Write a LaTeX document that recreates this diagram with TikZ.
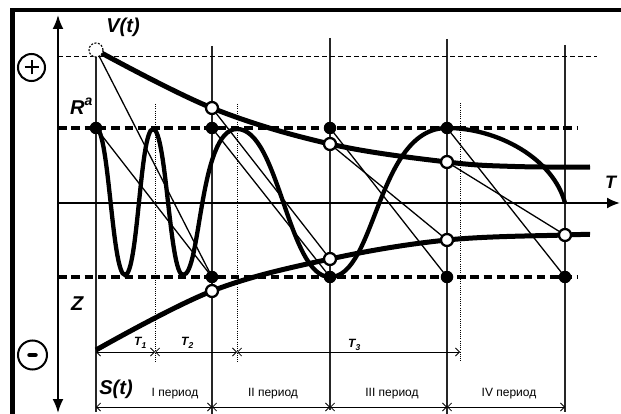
\documentclass[tikz,border=0pt]{standalone}
\usepackage{fontspec}
\setmainfont{Liberation Sans}
\usetikzlibrary{arrows.meta}
\begin{document}
\begin{tikzpicture}[x=1pt,y=-1pt,
  gridv/.style={line width=1.1pt, black!85},
  dotv/.style={line width=0.7pt, dash pattern=on 1pt off 1.2pt},
  thickdash/.style={line width=4.5pt, dash pattern=on 8.5pt off 4.8pt},
  envelope/.style={line width=5pt},
  wave/.style={line width=4.3pt},
  diag/.style={line width=1.3pt},
  fdot/.style={circle, fill=black, inner sep=0pt, minimum size=12.5pt},
  odot/.style={circle, draw=black, fill=white, line width=2.3pt, inner sep=0pt, minimum size=12pt},
  dim/.style={line width=0.8pt, {Straight Barb[length=4pt,width=8pt]}-{Straight Barb[length=4pt,width=8pt]}},
  axis/.style={line width=2pt},
  biglab/.style={font=\fontsize{20}{20}\selectfont\bfseries\itshape, inner sep=0pt},
  smlab/.style={font=\fontsize{12}{12}\selectfont\bfseries\itshape, inner sep=0pt},
  per/.style={font=\fontsize{12}{12}\selectfont, inner sep=0pt},
]
\useasboundingbox (0,0) rectangle (621,414);
% frame
\draw[line width=4pt] (10,10.3) -- (621,10.3);
\draw[line width=5pt] (12.5,8.3) -- (12.5,414);

% coordinates
\coordinate (V0) at (96,50);
\coordinate (A1) at (96,128);
\coordinate (A2) at (212,128);
\coordinate (A3) at (330,128);
\coordinate (A4) at (447,128);
\coordinate (B2) at (212,277);
\coordinate (B3) at (330,277);
\coordinate (B4) at (447,277);
\coordinate (B5) at (565,277);
\coordinate (U2) at (212,108);
\coordinate (U3) at (330,144);
\coordinate (U4) at (447,162);
\coordinate (U5) at (515,166.5);
\coordinate (Uend) at (590,167);
\coordinate (Lstart) at (96,350);
\coordinate (L2) at (212,291);
\coordinate (L3) at (330,259);
\coordinate (L4) at (447,240);
\coordinate (L5) at (565,235);
\coordinate (Lend) at (590,234.5);
\coordinate (w1) at (125,275);
\coordinate (w2) at (153,129);
\coordinate (w3) at (183,275);
\coordinate (w4) at (237,129);
\coordinate (w7) at (565,203);
\coordinate (yTop) at (58,15);
\coordinate (yBot) at (58,413);
\coordinate (xL) at (58,203);
\coordinate (xR) at (620,203);
\coordinate (t0) at (96,352);
\coordinate (t1) at (155,352);
\coordinate (t2) at (237,352);
\coordinate (t3) at (460,352);
\coordinate (p0) at (96,407);
\coordinate (p1) at (212,407);
\coordinate (p2) at (330,407);
\coordinate (p3) at (447,407);
\coordinate (p4) at (565,407);

% vertical grid lines
\draw[gridv] (V0) -- (96,412);
\draw[gridv] (212,46) -- (212,414);
\draw[gridv] (330,38) -- (330,410);
\draw[gridv] (447,39) -- (447,414);
\draw[gridv] (565,45) -- (565,412);
% dotted
\draw[dotv] (155,104) -- (155,362);
\draw[dotv] (237,104) -- (237,362);
\draw[dotv] (460,103) -- (460,362);
% thin dashed top level
\draw[line width=0.9pt, dash pattern=on 5pt off 3pt] (58,56) -- (597,56);

% axes
\draw[axis, {Latex[length=14pt,width=11pt]}-{Latex[length=14pt,width=11pt]}] (yBot) -- (yTop);
\draw[axis, -{Latex[length=13pt,width=11pt]}] (xL) -- (xR);

% dimension lines
\draw[dim] (t0) -- (t1);
\draw[dim] (t1) -- (t2);
\draw[dim] (t2) -- (t3);
\draw[dim] (p0) -- (p1);
\draw[dim] (p1) -- (p2);
\draw[dim] (p2) -- (p3);
\draw[dim] (p3) -- (p4);

% thick dashed levels
\draw[thickdash] (58,128) -- (578,128);
\draw[thickdash] (58,277) -- (578,277);

% diagonals
\draw[diag] (V0) -- (B2);
\draw[diag] (A1) -- (B2);
\draw[diag] (U2) -- (L3);
\draw[diag] (A2) -- (B3);
\draw[diag] (A3) -- (B4);
\draw[diag] (U3) -- (L4);
\draw[diag] (A4) -- (B5);
\draw[diag] (U4) -- (L5);

% envelopes
\draw[envelope] plot[smooth, tension=0.6] coordinates {(V0) (U2) (U3) (U4) (U5) (Uend)};
\draw[envelope] plot[smooth, tension=0.6] coordinates {(Lstart) (L2) (L3) (L4) (L5) (Lend)};

% wave
\draw[wave] (A1) .. controls (109,128) and (112,275) .. (w1)
  .. controls (138,275) and (140,129) .. (w2)
  .. controls (166.5,129) and (169.5,275) .. (w3)
  .. controls (201,275) and (199,129) .. (w4)
  .. controls (279,129) and (288,277) .. (B3)
  .. controls (376,277) and (377,128) .. (A4)
  .. controls (497,128) and (553,158) .. (w7);

% dots
\node[circle, draw, fill=white, line width=1.1pt, dash pattern=on 2pt off 1.5pt, minimum size=14pt, inner sep=0pt] (nV0) at (V0) {};
\node[fdot] (nA1) at (A1) {};
\node[fdot] (nA2) at (A2) {};
\node[fdot] (nA3) at (A3) {};
\node[fdot] (nA4) at (A4) {};
\node[fdot] (nB2) at (B2) {};
\node[fdot] (nB3) at (B3) {};
\node[fdot] (nB4) at (B4) {};
\node[fdot] (nB5) at (B5) {};
\node[odot] (nU2) at (U2) {};
\node[odot] (nU3) at (U3) {};
\node[odot] (nU4) at (U4) {};
\node[odot] (nL2) at (L2) {};
\node[odot] (nL3) at (L3) {};
\node[odot] (nL4) at (L4) {};
\node[odot] (nL5) at (L5) {};

% plus / minus signs
\node[circle, draw, line width=2pt, minimum size=27pt, inner sep=0pt] (plus) at (31.5,67.5) {};
\draw[line width=2pt] ([xshift=-7pt]plus.center) -- ([xshift=7pt]plus.center)
  ([yshift=-7pt]plus.center) -- ([yshift=7pt]plus.center);
\node[circle, draw, line width=2pt, minimum size=29pt, inner sep=0pt] (minus) at (32.5,355) {};
\draw[line width=4.5pt, line cap=round] ([xshift=-3pt]minus.center) -- ([xshift=3pt]minus.center);

% labels
\node[biglab] (Vlab) at (123,27) {V(t)};
\node[biglab, anchor=base west] (Rlab) at (70,115) {R\raisebox{9pt}{\fontsize{14}{14}\selectfont a}};
\node[biglab, anchor=base west] (Zlab) at (71,310.7) {Z};
\node[biglab, font=\fontsize{18}{18}\selectfont\bfseries\itshape, anchor=base west] (Tlab) at (605,189) {T};
\node[biglab] (Slab) at (116,389) {S(t)};
\node[smlab, anchor=base west] (T1lab) at (134,345) {T\raisebox{-3pt}{\fontsize{8.5}{8.5}\selectfont 1}};
\node[smlab, anchor=base west] (T2lab) at (181,345) {T\raisebox{-3pt}{\fontsize{8.5}{8.5}\selectfont 2}};
\node[smlab, anchor=base west] (T3lab) at (348,347) {T\raisebox{-3pt}{\fontsize{8.5}{8.5}\selectfont 3}};
\node[per, anchor=base] (per1) at (175,396) {I период};
\node[per, anchor=base] (per2) at (273,396) {II период};
\node[per, anchor=base] (per3) at (392,396) {III период};
\node[per, anchor=base] (per4) at (509,396) {IV период};
\end{tikzpicture}
\end{document}
